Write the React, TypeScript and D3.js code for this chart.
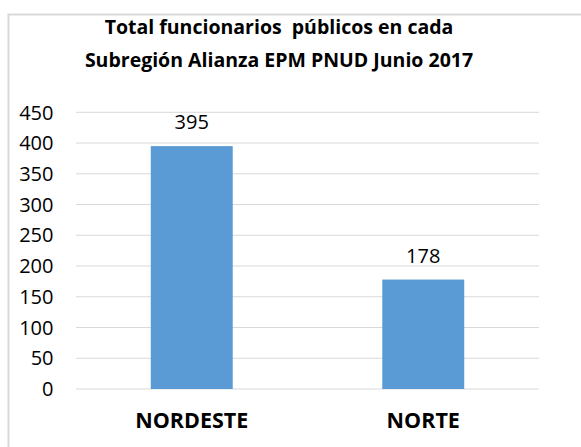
import React from "react";
import * as d3 from "d3";

const title = ["Total funcionarios  públicos en cada", "Subregión Alianza EPM PNUD Junio 2017"];
const categories = ["NORDESTE", "NORTE"];
const values = [395, 178];
const yTicks = [0, 50, 100, 150, 200, 250, 300, 350, 400, 450];

export default function App() {
  const W = 581, H = 447;
  const left = 76, right = 539, top = 112.3, bottom = 389;
  const x = d3.scaleBand<string>().domain(categories).range([left, right]).paddingInner(0.646).paddingOuter(0.323);
  const y = d3.scaleLinear().domain([0, 450]).range([bottom, top]);
  const font = "'Open Sans', 'Noto Sans', sans-serif";
  return (
    <svg width={W} height={H} style={{ position: "absolute", left: 0, top: 0, background: "#fff" }}>
      <rect x={8.5} y={14.5} width={W + 10} height={H + 10} fill="#fff" stroke="#d9d9d9" strokeWidth={2} />
      {title.map((t, i) => (
        <text key={i} x={279} y={33.5 + i * 33.5} textAnchor="middle" fontFamily={font} fontWeight="bold" fontSize={19.5} fill="#000" style={{ whiteSpace: "pre" }}>
          {t}
        </text>
      ))}
      {yTicks.map((t) => (
        <g key={t}>
          <line x1={left} x2={right} y1={y(t)} y2={y(t)} stroke="#d9d9d9" strokeWidth={1} />
          <text x={53.5} y={y(t)} dy="0.36em" textAnchor="end" fontFamily={font} fontSize={20} fill="#000">
            {t}
          </text>
        </g>
      ))}
      {categories.map((c, i) => (
        <g key={c}>
          <rect x={x(c)} y={y(values[i])} width={x.bandwidth()} height={bottom - y(values[i])} fill="#5B9BD5" />
          <text x={(x(c) as number) + x.bandwidth() / 2} y={y(values[i]) - 17} textAnchor="middle" fontFamily={font} fontSize={20} fill="#000">
            {values[i]}
          </text>
          <text x={(x(c) as number) + x.bandwidth() / 2} y={428} textAnchor="middle" fontFamily={font} fontWeight="bold" fontSize={21.5} fill="#000">
            {c}
          </text>
        </g>
      ))}
    </svg>
  );
}
